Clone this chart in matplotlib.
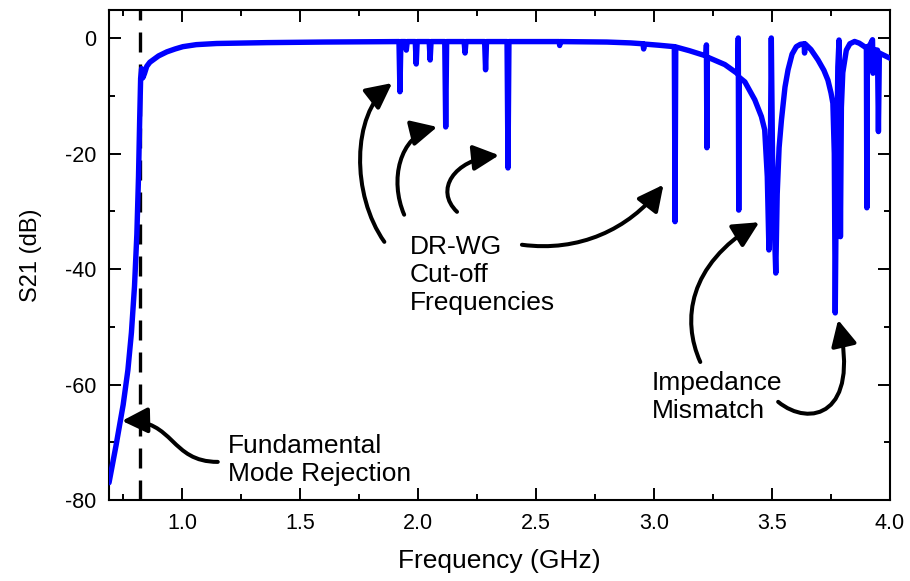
import matplotlib
matplotlib.use('Agg')
import matplotlib.pyplot as plt
from matplotlib.patches import FancyArrowPatch
from matplotlib.path import Path
from matplotlib.ticker import MultipleLocator, FormatStrFormatter

plt.rcParams['font.family'] = ['Liberation Sans', 'DejaVu Sans']
plt.rcParams['axes.unicode_minus'] = False

freq_ghz = [
    0.690, 0.720, 0.750, 0.770, 0.785, 0.798, 0.808, 0.815, 0.820, 0.824,
    0.828, 0.833, 0.840, 0.850, 0.863, 0.900, 0.935, 0.970, 1.003, 1.060,
    1.146, 1.360, 1.600,
    1.919, 1.923, 1.927, 1.946, 1.950, 1.954, 1.988, 1.992, 1.996,
    2.047, 2.051, 2.055, 2.113, 2.117, 2.121, 2.195, 2.199, 2.203,
    2.282, 2.286, 2.290, 2.377, 2.381, 2.385, 2.598, 2.600, 2.602,
    2.800, 2.900, 2.953, 2.956, 2.959, 3.020, 3.086, 3.089, 3.092,
    3.150, 3.220, 3.222, 3.224, 3.226, 3.300, 3.355, 3.357, 3.359, 3.361,
    3.385, 3.427, 3.455, 3.469, 3.480, 3.487, 3.492, 3.497, 3.502, 3.510,
    3.516, 3.522, 3.530, 3.540, 3.555, 3.568, 3.585, 3.603, 3.620, 3.636,
    3.638, 3.640, 3.665, 3.695, 3.720, 3.737, 3.750, 3.758, 3.764, 3.768,
    3.772, 3.779, 3.784, 3.787, 3.790, 3.794, 3.800, 3.815, 3.830, 3.850,
    3.870, 3.892, 3.900, 3.902, 3.904, 3.915, 3.926, 3.928, 3.932, 3.947,
    3.951, 3.955, 3.975, 4.000,
]
s21_db = [
    -77.0, -70.5, -63.5, -57.5, -51.0, -43.0, -34.0, -24.0, -14.0, -7.0,
    -5.3, -6.9, -6.2, -4.9, -4.2, -3.1, -2.4, -1.9, -1.5, -1.15,
    -0.95, -0.80, -0.70,
    -0.62, -9.3, -0.62, -0.62, -2.1, -0.62, -0.62, -4.5, -0.62,
    -0.62, -3.8, -0.62, -0.62, -15.4, -0.62, -0.62, -2.6, -0.62,
    -0.62, -5.5, -0.62, -0.62, -22.5, -0.62, -0.62, -1.3, -0.62,
    -0.70, -0.85, -1.0, -1.9, -1.05, -1.25, -1.5, -31.8, -1.55,
    -2.2, -3.1, -1.2, -19.0, -3.3, -4.6, -6.2, 0.0, -29.8, -6.8,
    -7.6, -10.7, -13.6, -15.9, -24.0, -36.7, -25.0, 0.0, -20.0, -33.0,
    -40.7, -27.0, -19.0, -14.2, -8.5, -5.5, -2.8, -1.5, -1.1, -1.0,
    -2.6, -1.0, -2.0, -3.8, -5.6, -7.3, -9.5, -11.3, -20.0, -47.6,
    -28.0, -5.0, -0.35, -10.0, -34.4, -12.0, -6.0, -2.1, -1.0, -0.6,
    -0.9, -1.5, -1.6, -29.4, -1.6, -1.2, -0.3, -6.1, -2.0, -2.1,
    -16.2, -2.6, -3.0, -3.5,
]

fundamental_cutoff = 0.821

x_ticks = [1.0, 1.5, 2.0, 2.5, 3.0, 3.5, 4.0]
y_ticks = [0, -20, -40, -60, -80]


def curved_arrow(ax, p0, c1, c2, p1):
    path = Path([p0, c1, c2, p1],
                [Path.MOVETO, Path.CURVE4, Path.CURVE4, Path.CURVE4])
    arrow = FancyArrowPatch(path=path,
                            arrowstyle='-|>,head_length=0.6,head_width=0.3',
                            mutation_scale=26, lw=2.9, color='black')
    ax.add_patch(arrow)


fig = plt.figure(figsize=(9.1, 5.81), dpi=100)
ax = fig.add_axes([0.1198, 0.1394, 0.978 - 0.1198, 0.9828 - 0.1394])

ax.plot(freq_ghz, s21_db, color='#0000FF', lw=3.9,
        solid_capstyle='round', solid_joinstyle='round', zorder=3)
ax.axvline(fundamental_cutoff, color='black', lw=2.4,
           linestyle=(0, (6, 3.6)), zorder=2)

ax.set_xlim(0.69, 4.0)
ax.set_ylim(-80, 4.85)
ax.set_xticks(x_ticks)
ax.set_yticks(y_ticks)
ax.xaxis.set_minor_locator(MultipleLocator(0.25))
ax.yaxis.set_minor_locator(MultipleLocator(10))
ax.xaxis.set_major_formatter(FormatStrFormatter('%.1f'))
ax.tick_params(which='both', direction='in', top=True, right=True, width=1.4,
               labelsize=15.5)
ax.tick_params(which='major', length=8.5)
ax.tick_params(which='minor', length=4.5)
ax.tick_params(axis='x', pad=9)
ax.tick_params(axis='y', pad=9)
for spine in ax.spines.values():
    spine.set_linewidth(1.5)

ax.set_xlabel('Frequency (GHz)', fontsize=19, labelpad=11)
ax.set_ylabel('S21 (dB)', fontsize=17, labelpad=17)

# annotations
ax.text(1.966, -41.0, 'DR-WG\nCut-off\nFrequencies', fontsize=19,
        ha='left', va='center', linespacing=1.2)
ax.text(2.989, -62.2, 'Impedance\nMismatch', fontsize=19,
        ha='left', va='center', linespacing=1.2)
ax.text(1.193, -73.1, 'Fundamental\nMode Rejection', fontsize=19,
        ha='left', va='center', linespacing=1.2)

curved_arrow(ax, (1.857, -35.3), (1.717, -27.2), (1.717, -13.3), (1.890, -7.8))
curved_arrow(ax, (1.941, -30.6), (1.878, -24.6), (1.920, -17.0), (2.081, -15.4))
curved_arrow(ax, (2.165, -30.1), (2.068, -26.3), (2.152, -21.1), (2.343, -20.3))
curved_arrow(ax, (2.440, -35.8), (2.681, -37.1), (2.892, -33.2), (3.040, -25.4))
curved_arrow(ax, (3.196, -56.1), (3.116, -48.8), (3.146, -39.3), (3.446, -31.9))
curved_arrow(ax, (3.526, -63.0), (3.661, -67.5), (3.873, -65.3), (3.780, -48.8))
curved_arrow(ax, (1.151, -73.4), (0.948, -73.4), (0.969, -66.1), (0.745, -66.3))

fig.savefig('out.png', dpi=100)
